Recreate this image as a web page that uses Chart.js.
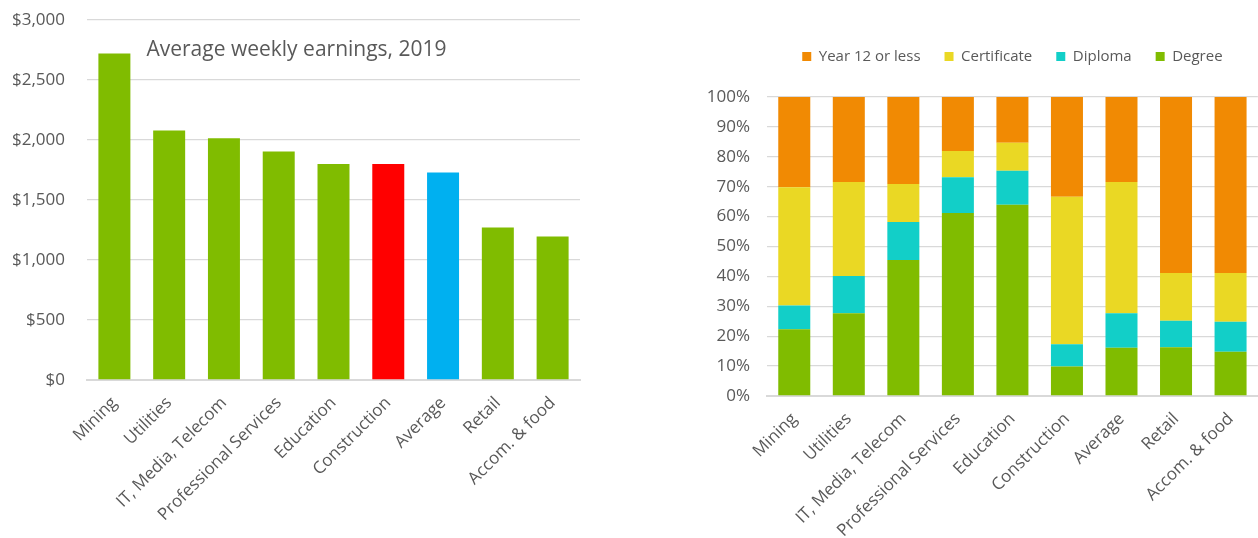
<!DOCTYPE html>
<html>
<head>
<meta charset="utf-8">
<script src="https://cdn.jsdelivr.net/npm/chart.js@4"></script>
<style>
    html, body { margin: 0; padding: 0; background: #fff; overflow: hidden; }
    #leftBox { position: absolute; left: 0; top: 0; }
    #rightBox { position: absolute; left: 600px; top: 0; }
</style>
</head>
<body>
<div id="leftBox"><canvas id="earningsChart" width="600" height="538"></canvas></div>
<div id="rightBox"><canvas id="qualChart" width="658" height="538"></canvas></div>
<script>
// Data
const categories = ['Mining', 'Utilities', 'IT, Media, Telecom', 'Professional Services', 'Education', 'Construction', 'Average', 'Retail', 'Accom. & food'];
const earnings = [2720, 2080, 2015, 1905, 1800, 1800, 1730, 1270, 1195];
const earningTicks = [0, 500, 1000, 1500, 2000, 2500, 3000];

const degree = [22.3, 27.7, 45.5, 61.2, 64.0, 9.9, 16.1, 16.3, 14.8];
const diploma = [8.0, 12.4, 12.7, 12.0, 11.3, 7.4, 11.6, 8.9, 10.0];
const certificate = [39.5, 31.5, 12.7, 8.7, 9.4, 49.3, 43.9, 15.9, 16.3];
const year12 = [30.2, 28.4, 29.1, 18.1, 15.3, 33.4, 28.4, 58.9, 58.9];
const pctTicks = [0, 10, 20, 30, 40, 50, 60, 70, 80, 90, 100];

// Styles
const GREEN = '#80bc00';
const barColors = [GREEN, GREEN, GREEN, GREEN, GREEN, '#ff0000', '#00b0f0', GREEN, GREEN];
const textColor = '#595959';
const gridColor = '#d9d9d9';
const fontFamily = '"Open Sans", "Noto Sans", sans-serif';

Chart.defaults.font.family = fontFamily;
Chart.defaults.color = textColor;
Chart.defaults.animation = false;

// Title drawn inside the plot area
const insideTitle = {
    id: 'insideTitle',
    afterDraw(chart, args, opts) {
        const { ctx, chartArea } = chart;
        ctx.save();
        ctx.font = `${opts.size}px ${fontFamily}`;
        ctx.fillStyle = textColor;
        ctx.textAlign = 'center';
        ctx.textBaseline = 'middle';
        ctx.fillText(opts.text, (chartArea.left + chartArea.right) / 2 + opts.dx, chartArea.top + opts.dy);
        ctx.restore();
    }
};

// Extra space between the legend and the plot
const legendGap = {
    id: 'legendGap',
    beforeLayout(chart, args, opts) {
        const lg = chart.legend;
        if (lg && !lg._gapPatched) {
            const fit = lg.fit;
            lg.fit = function () {
                fit.call(this);
                this.height += opts.gap;
            };
            lg._gapPatched = true;
        }
    }
};

function xAxis(height) {
    return {
        grid: { display: false, drawTicks: false },
        border: { color: gridColor, width: 2 },
        ticks: {
            color: textColor,
            font: { size: 17 },
            minRotation: 45,
            maxRotation: 45,
            autoSkip: false,
            padding: 13
        },
        afterFit: s => { s.height = height; }
    };
}

// label gap comes from an invisible tick mark so it does not push the plot top down
function yAxis(width, tickList, fmt, gap) {
    return {
        min: tickList[0],
        max: tickList[tickList.length - 1],
        afterBuildTicks: s => { s.ticks = tickList.map(v => ({ value: v })); },
        grid: { color: gridColor, lineWidth: 1.3, drawTicks: true, tickLength: gap, tickColor: 'rgba(0,0,0,0)' },
        border: { display: false },
        ticks: {
            color: textColor,
            font: { size: 17 },
            padding: 0,
            callback: fmt
        },
        afterFit: s => { s.width = width; }
    };
}

// Left chart: average weekly earnings
new Chart(document.getElementById('earningsChart').getContext('2d'), {
    type: 'bar',
    data: {
        labels: categories,
        datasets: [{
            label: 'Average weekly earnings',
            data: earnings,
            backgroundColor: barColors,
            borderWidth: 0,
            categoryPercentage: 1,
            barPercentage: 0.584
        }]
    },
    options: {
        responsive: false,
        layout: { padding: { top: 20, right: 20, left: 0, bottom: 0 } },
        plugins: {
            legend: { display: false },
            tooltip: { enabled: false },
            insideTitle: { text: 'Average weekly earnings, 2019', size: 21, dx: -37, dy: 30 }
        },
        scales: {
            x: xAxis(158),
            y: yAxis(87, earningTicks, v => '$' + v.toLocaleString('en-US'), 22)
        }
    },
    plugins: [insideTitle]
});

// Right chart: qualification mix
new Chart(document.getElementById('qualChart').getContext('2d'), {
    type: 'bar',
    data: {
        labels: categories,
        datasets: [
            { label: 'Degree', data: degree, backgroundColor: GREEN },
            { label: 'Diploma', data: diploma, backgroundColor: '#12cfc8' },
            { label: 'Certificate', data: certificate, backgroundColor: '#ead824' },
            { label: 'Year 12 or less', data: year12, backgroundColor: '#f18a03' }
        ].map(d => Object.assign(d, { borderWidth: 0, categoryPercentage: 1, barPercentage: 0.587 }))
    },
    options: {
        responsive: false,
        layout: { padding: { top: 25, right: 0, left: 0, bottom: 0 } },
        plugins: {
            legend: {
                position: 'top',
                fullSize: false,
                reverse: true,
                labels: {
                    color: textColor,
                    font: { size: 15 },
                    boxWidth: 9,
                    boxHeight: 9,
                    padding: 24
                }
            },
            legendGap: { gap: 23 },
            tooltip: { enabled: false }
        },
        scales: {
            x: Object.assign(xAxis(142), { stacked: true }),
            y: Object.assign(yAxis(167, pctTicks, v => v + '%', 17), { stacked: true })
        }
    },
    plugins: [legendGap]
});
</script>
</body>
</html>
